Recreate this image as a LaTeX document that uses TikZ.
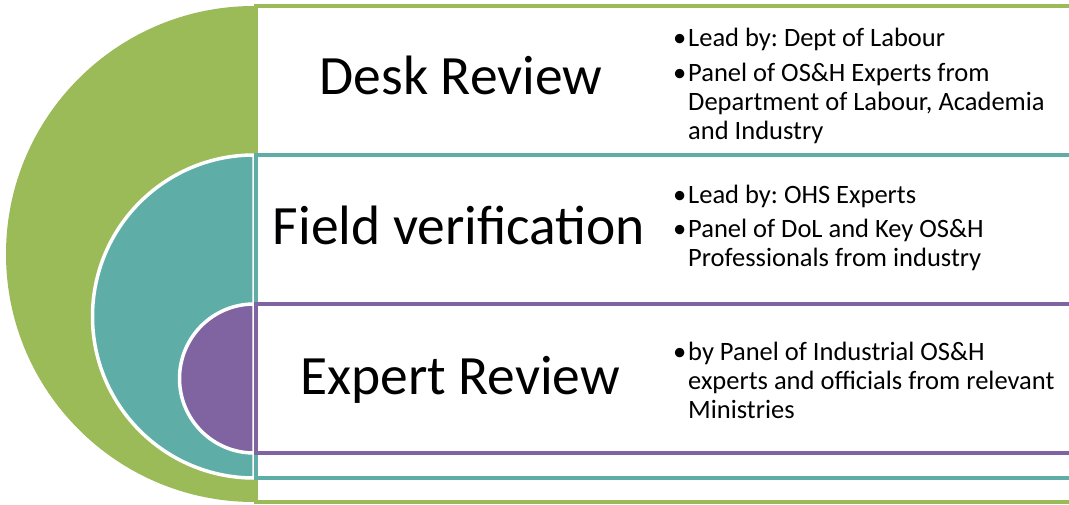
\documentclass[tikz,border=0pt]{standalone}
\usepackage{fontspec}
\setmainfont{Carlito}
\frenchspacing
\definecolor{stagegreen}{RGB}{155,187,89}
\definecolor{stageteal}{RGB}{94,174,167}
\definecolor{stagepurple}{RGB}{128,100,162}
\newcommand{\bul}{\makebox[15pt][l]{•}}
\newcommand{\ind}{\hspace*{15pt}}

\begin{document}
\begin{tikzpicture}[x=1pt,y=-1pt,
  half/.style={draw=white,line width=3.5pt},
  panel/.style={fill=white,line width=4pt},
  title/.style={font=\fontsize{55.5}{60}\selectfont,anchor=base,inner sep=0pt},
  info/.style={font=\fontsize{26.5}{29}\selectfont,anchor=base west,align=left,inner sep=0pt},
]
  \clip (0,0) rectangle (1069,505);
  % desk review
  \fill[stagegreen] (254,6) arc[start angle=270,end angle=90,radius=248] -- cycle;
  \draw[panel,draw=stagegreen] (256,6) rectangle (1090,502);
  % field verification
  \filldraw[half,fill=stageteal] (254,155) arc[start angle=270,end angle=90,radius=161.5] -- cycle;
  \draw[panel,draw=stageteal] (256,155) rectangle (1090,478);
  % expert review
  \filldraw[half,fill=stagepurple] (254,304) arc[start angle=270,end angle=90,radius=74.5] -- cycle;
  \draw[panel,draw=stagepurple] (256,304) rectangle (1090,453);

  \node[title] (desk)   at (461,95)  {Desk Review};
  \node[title] (field)  at (459,245) {Field verification};
  \node[title] (expert) at (460,394) {Expert Review};

  % base anchor of a multi-line node is its last line
  \node[info] (desk1)   at (673,47)  {\bul Lead by: Dept of Labour};
  \node[info] (desk2)   at (673,140) {\bul Panel of OS\&H Experts from\\\ind Department of Labour, Academia\\\ind and Industry};
  \node[info] (field1)  at (673,204) {\bul Lead by: OHS Experts};
  \node[info] (field2)  at (673,267) {\bul Panel of DoL and Key OS\&H\\\ind Professionals from industry};
  \node[info] (expert1) at (673,418) {\bul by Panel of Industrial OS\&H\\\ind experts and officials from relevant\\\ind Ministries};
\end{tikzpicture}
\end{document}
